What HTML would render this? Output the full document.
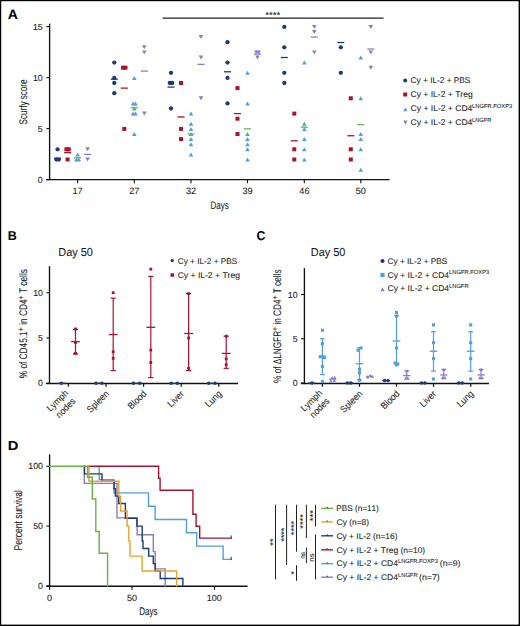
<!DOCTYPE html>
<html><head><meta charset="utf-8"><style>
html,body{margin:0;padding:0;background:#fff;width:520px;height:626px;overflow:hidden}
svg{display:block}
text{font-family:"Liberation Sans", sans-serif;font-kerning:none;text-rendering:geometricPrecision;stroke:#1a1a1a;stroke-width:0.08px}
</style></head><body>
<svg width="520" height="626" viewBox="0 0 520 626">
<rect width="520" height="626" fill="#fff"/>
<rect x="0" y="0" width="520" height="1.2" fill="#000"/>
<rect x="0" y="0" width="1.2" height="626" fill="#000"/>
<rect x="518.6" y="0" width="1.4" height="626" fill="#000"/>
<rect x="0" y="624.6" width="520" height="1.4" fill="#000"/>
<text transform="translate(7.75,18.75) scale(1.0316,1)" x="0" y="0" font-size="13.6" font-weight="bold" fill="#000">A</text>
<line x1="49.60" y1="23.70" x2="49.60" y2="180.20" stroke="#111" stroke-width="1.35"/>
<line x1="46.00" y1="179.60" x2="389.60" y2="179.60" stroke="#111" stroke-width="1.35"/>
<line x1="46.40" y1="179.60" x2="49.60" y2="179.60" stroke="#111" stroke-width="1.1"/>
<text x="37.85" y="182.65" font-size="8.8" fill="#1a1a1a">0</text>
<line x1="46.40" y1="128.60" x2="49.60" y2="128.60" stroke="#111" stroke-width="1.1"/>
<text x="37.87" y="131.65" font-size="8.8" fill="#1a1a1a">5</text>
<line x1="46.40" y1="77.60" x2="49.60" y2="77.60" stroke="#111" stroke-width="1.1"/>
<text x="32.96" y="80.65" font-size="8.8" fill="#1a1a1a">10</text>
<line x1="46.40" y1="26.60" x2="49.60" y2="26.60" stroke="#111" stroke-width="1.1"/>
<text x="32.98" y="29.65" font-size="8.8" fill="#1a1a1a">15</text>
<line x1="77.60" y1="179.60" x2="77.60" y2="183.20" stroke="#111" stroke-width="1.1"/>
<text x="72.44" y="194.30" font-size="9.1" fill="#1a1a1a">17</text>
<line x1="134.30" y1="179.60" x2="134.30" y2="183.20" stroke="#111" stroke-width="1.1"/>
<text x="129.25" y="194.30" font-size="9.1" fill="#1a1a1a">27</text>
<line x1="191.00" y1="179.60" x2="191.00" y2="183.20" stroke="#111" stroke-width="1.1"/>
<text x="186.01" y="194.30" font-size="9.1" fill="#1a1a1a">32</text>
<line x1="247.50" y1="179.60" x2="247.50" y2="183.20" stroke="#111" stroke-width="1.1"/>
<text x="242.48" y="194.30" font-size="9.1" fill="#1a1a1a">39</text>
<line x1="304.30" y1="179.60" x2="304.30" y2="183.20" stroke="#111" stroke-width="1.1"/>
<text x="299.34" y="194.30" font-size="9.1" fill="#1a1a1a">46</text>
<line x1="360.80" y1="179.60" x2="360.80" y2="183.20" stroke="#111" stroke-width="1.1"/>
<text x="355.74" y="194.30" font-size="9.1" fill="#1a1a1a">50</text>
<text transform="translate(210.44,208.60) scale(0.7348,1)" x="0" y="0" font-size="10.9" fill="#1a1a1a">Days</text>
<g transform="translate(27.20,124.10) rotate(-90)">
<text transform="translate(-0.36,0.00) scale(0.7234,1)" x="0" y="0" font-size="11.2" fill="#1a1a1a">Scurfy&#160;score</text>
</g>
<line x1="162.50" y1="18.20" x2="383.60" y2="18.20" stroke="#222" stroke-width="1.2"/>
<text transform="translate(265.23,18.40) scale(1.0996,1)" x="0" y="0" font-size="8.9" fill="#1a1a1a">****</text>
<circle cx="57.60" cy="149.30" r="2.15" fill="#1b3b7b"/>
<circle cx="56.40" cy="159.50" r="2.15" fill="#1b3b7b"/>
<circle cx="58.80" cy="159.50" r="2.15" fill="#1b3b7b"/>
<line x1="54.10" y1="158.48" x2="61.10" y2="158.48" stroke="#1b3b7b" stroke-width="1.3"/>
<rect x="64.40" y="147.30" width="4.0" height="4.0" fill="#a9122e"/>
<rect x="66.80" y="147.30" width="4.0" height="4.0" fill="#a9122e"/>
<rect x="65.60" y="157.50" width="4.0" height="4.0" fill="#a9122e"/>
<line x1="64.10" y1="152.67" x2="71.10" y2="152.67" stroke="#a9122e" stroke-width="1.3"/>
<polygon points="75.30,156.40 79.90,156.40 77.60,152.40" fill="#519edd"/>
<polygon points="74.10,161.50 78.70,161.50 76.40,157.50" fill="#519edd"/>
<polygon points="76.50,161.50 81.10,161.50 78.80,157.50" fill="#519edd"/>
<line x1="74.10" y1="157.77" x2="81.10" y2="157.77" stroke="#6bb241" stroke-width="1.3"/>
<polygon points="85.30,147.30 89.90,147.30 87.60,151.30" fill="#8a7cc6"/>
<polygon points="85.30,157.50 89.90,157.50 87.60,161.50" fill="#8a7cc6"/>
<line x1="84.10" y1="154.40" x2="91.10" y2="154.40" stroke="#8a7cc6" stroke-width="1.3"/>
<circle cx="114.30" cy="62.60" r="2.15" fill="#1b3b7b"/>
<circle cx="114.30" cy="77.90" r="2.15" fill="#1b3b7b"/>
<circle cx="114.30" cy="83.00" r="2.15" fill="#1b3b7b"/>
<circle cx="114.30" cy="93.20" r="2.15" fill="#1b3b7b"/>
<line x1="110.80" y1="79.18" x2="117.80" y2="79.18" stroke="#1b3b7b" stroke-width="1.3"/>
<rect x="121.10" y="65.70" width="4.0" height="4.0" fill="#a9122e"/>
<rect x="123.50" y="65.70" width="4.0" height="4.0" fill="#a9122e"/>
<rect x="122.30" y="126.90" width="4.0" height="4.0" fill="#a9122e"/>
<line x1="120.80" y1="88.10" x2="127.80" y2="88.10" stroke="#a9122e" stroke-width="1.3"/>
<polygon points="132.00,79.90 136.60,79.90 134.30,75.90" fill="#519edd"/>
<polygon points="130.80,105.40 135.40,105.40 133.10,101.40" fill="#519edd"/>
<polygon points="133.20,105.40 137.80,105.40 135.50,101.40" fill="#519edd"/>
<polygon points="132.00,110.50 136.60,110.50 134.30,106.50" fill="#519edd"/>
<polygon points="130.80,115.60 135.40,115.60 133.10,111.60" fill="#519edd"/>
<polygon points="133.20,115.60 137.80,115.60 135.50,111.60" fill="#519edd"/>
<polygon points="132.00,136.00 136.60,136.00 134.30,132.00" fill="#519edd"/>
<line x1="130.80" y1="107.79" x2="137.80" y2="107.79" stroke="#6bb241" stroke-width="1.3"/>
<polygon points="142.00,45.30 146.60,45.30 144.30,49.30" fill="#8a7cc6"/>
<polygon points="142.00,50.40 146.60,50.40 144.30,54.40" fill="#8a7cc6"/>
<polygon points="142.00,111.60 146.60,111.60 144.30,115.60" fill="#8a7cc6"/>
<line x1="140.80" y1="71.07" x2="147.80" y2="71.07" stroke="#8a7cc6" stroke-width="1.3"/>
<circle cx="171.00" cy="72.80" r="2.15" fill="#1b3b7b"/>
<circle cx="169.80" cy="83.00" r="2.15" fill="#1b3b7b"/>
<circle cx="172.20" cy="83.00" r="2.15" fill="#1b3b7b"/>
<circle cx="171.00" cy="108.50" r="2.15" fill="#1b3b7b"/>
<line x1="167.50" y1="87.08" x2="174.50" y2="87.08" stroke="#1b3b7b" stroke-width="1.3"/>
<rect x="179.00" y="81.00" width="4.0" height="4.0" fill="#a9122e"/>
<rect x="179.00" y="126.90" width="4.0" height="4.0" fill="#a9122e"/>
<rect x="179.00" y="137.10" width="4.0" height="4.0" fill="#a9122e"/>
<line x1="177.50" y1="116.97" x2="184.50" y2="116.97" stroke="#a9122e" stroke-width="1.3"/>
<polygon points="188.70,115.60 193.30,115.60 191.00,111.60" fill="#519edd"/>
<polygon points="188.70,125.80 193.30,125.80 191.00,121.80" fill="#519edd"/>
<polygon points="188.70,130.90 193.30,130.90 191.00,126.90" fill="#519edd"/>
<polygon points="188.70,136.00 193.30,136.00 191.00,132.00" fill="#519edd"/>
<polygon points="188.70,141.10 193.30,141.10 191.00,137.10" fill="#519edd"/>
<polygon points="188.70,146.20 193.30,146.20 191.00,142.20" fill="#519edd"/>
<polygon points="188.70,156.40 193.30,156.40 191.00,152.40" fill="#519edd"/>
<line x1="187.50" y1="134.00" x2="194.50" y2="134.00" stroke="#6bb241" stroke-width="1.3"/>
<polygon points="198.70,35.10 203.30,35.10 201.00,39.10" fill="#8a7cc6"/>
<polygon points="198.70,55.50 203.30,55.50 201.00,59.50" fill="#8a7cc6"/>
<polygon points="198.70,96.30 203.30,96.30 201.00,100.30" fill="#8a7cc6"/>
<line x1="197.50" y1="64.33" x2="204.50" y2="64.33" stroke="#8a7cc6" stroke-width="1.3"/>
<circle cx="227.50" cy="42.20" r="2.15" fill="#1b3b7b"/>
<circle cx="227.50" cy="62.60" r="2.15" fill="#1b3b7b"/>
<circle cx="227.50" cy="77.90" r="2.15" fill="#1b3b7b"/>
<circle cx="227.50" cy="103.40" r="2.15" fill="#1b3b7b"/>
<line x1="224.00" y1="71.78" x2="231.00" y2="71.78" stroke="#1b3b7b" stroke-width="1.3"/>
<rect x="235.50" y="86.10" width="4.0" height="4.0" fill="#a9122e"/>
<rect x="235.50" y="116.70" width="4.0" height="4.0" fill="#a9122e"/>
<rect x="235.50" y="132.00" width="4.0" height="4.0" fill="#a9122e"/>
<line x1="234.00" y1="113.60" x2="241.00" y2="113.60" stroke="#a9122e" stroke-width="1.3"/>
<polygon points="245.20,74.80 249.80,74.80 247.50,70.80" fill="#519edd"/>
<polygon points="245.20,105.40 249.80,105.40 247.50,101.40" fill="#519edd"/>
<polygon points="245.20,136.00 249.80,136.00 247.50,132.00" fill="#519edd"/>
<polygon points="245.20,141.10 249.80,141.10 247.50,137.10" fill="#519edd"/>
<polygon points="245.20,146.20 249.80,146.20 247.50,142.20" fill="#519edd"/>
<polygon points="245.20,151.30 249.80,151.30 247.50,147.30" fill="#519edd"/>
<polygon points="245.20,161.50 249.80,161.50 247.50,157.50" fill="#519edd"/>
<line x1="244.00" y1="128.90" x2="251.00" y2="128.90" stroke="#6bb241" stroke-width="1.3"/>
<polygon points="254.00,50.40 258.60,50.40 256.30,54.40" fill="#8a7cc6"/>
<polygon points="256.40,50.40 261.00,50.40 258.70,54.40" fill="#8a7cc6"/>
<polygon points="255.20,55.50 259.80,55.50 257.50,59.50" fill="#8a7cc6"/>
<line x1="254.00" y1="54.13" x2="261.00" y2="54.13" stroke="#8a7cc6" stroke-width="1.3"/>
<circle cx="284.30" cy="26.90" r="2.15" fill="#1b3b7b"/>
<circle cx="284.30" cy="47.30" r="2.15" fill="#1b3b7b"/>
<circle cx="284.30" cy="72.80" r="2.15" fill="#1b3b7b"/>
<circle cx="284.30" cy="83.00" r="2.15" fill="#1b3b7b"/>
<line x1="280.80" y1="57.50" x2="287.80" y2="57.50" stroke="#1b3b7b" stroke-width="1.3"/>
<rect x="292.30" y="111.60" width="4.0" height="4.0" fill="#a9122e"/>
<rect x="292.30" y="147.30" width="4.0" height="4.0" fill="#a9122e"/>
<rect x="292.30" y="157.50" width="4.0" height="4.0" fill="#a9122e"/>
<line x1="290.80" y1="140.83" x2="297.80" y2="140.83" stroke="#a9122e" stroke-width="1.3"/>
<polygon points="302.00,64.60 306.60,64.60 304.30,60.60" fill="#519edd"/>
<polygon points="302.00,125.80 306.60,125.80 304.30,121.80" fill="#519edd"/>
<polygon points="302.00,130.90 306.60,130.90 304.30,126.90" fill="#519edd"/>
<polygon points="302.00,141.10 306.60,141.10 304.30,137.10" fill="#519edd"/>
<polygon points="302.00,151.30 306.60,151.30 304.30,147.30" fill="#519edd"/>
<polygon points="302.00,161.50 306.60,161.50 304.30,157.50" fill="#519edd"/>
<line x1="300.80" y1="127.17" x2="307.80" y2="127.17" stroke="#6bb241" stroke-width="1.3"/>
<polygon points="312.00,24.90 316.60,24.90 314.30,28.90" fill="#8a7cc6"/>
<polygon points="312.00,30.00 316.60,30.00 314.30,34.00" fill="#8a7cc6"/>
<polygon points="312.00,50.40 316.60,50.40 314.30,54.40" fill="#8a7cc6"/>
<line x1="310.80" y1="37.10" x2="317.80" y2="37.10" stroke="#8a7cc6" stroke-width="1.3"/>
<circle cx="340.80" cy="47.30" r="2.15" fill="#1b3b7b"/>
<circle cx="340.80" cy="72.80" r="2.15" fill="#1b3b7b"/>
<line x1="337.30" y1="42.51" x2="344.30" y2="42.51" stroke="#1b3b7b" stroke-width="1.3"/>
<rect x="348.80" y="96.30" width="4.0" height="4.0" fill="#a9122e"/>
<rect x="348.80" y="147.30" width="4.0" height="4.0" fill="#a9122e"/>
<rect x="348.80" y="157.50" width="4.0" height="4.0" fill="#a9122e"/>
<line x1="347.30" y1="135.73" x2="354.30" y2="135.73" stroke="#a9122e" stroke-width="1.3"/>
<polygon points="358.50,59.50 363.10,59.50 360.80,55.50" fill="#519edd"/>
<polygon points="358.50,100.30 363.10,100.30 360.80,96.30" fill="#519edd"/>
<polygon points="358.50,136.00 363.10,136.00 360.80,132.00" fill="#519edd"/>
<polygon points="358.50,141.10 363.10,141.10 360.80,137.10" fill="#519edd"/>
<polygon points="358.50,151.30 363.10,151.30 360.80,147.30" fill="#519edd"/>
<polygon points="358.50,171.70 363.10,171.70 360.80,167.70" fill="#519edd"/>
<line x1="357.30" y1="124.62" x2="364.30" y2="124.62" stroke="#6bb241" stroke-width="1.3"/>
<polygon points="368.50,24.90 373.10,24.90 370.80,28.90" fill="#8a7cc6"/>
<polygon points="368.50,50.40 373.10,50.40 370.80,54.40" fill="#8a7cc6"/>
<polygon points="368.50,65.70 373.10,65.70 370.80,69.70" fill="#8a7cc6"/>
<line x1="367.30" y1="49.03" x2="374.30" y2="49.03" stroke="#8a7cc6" stroke-width="1.3"/>
<circle cx="405.20" cy="80.50" r="2.0" fill="#1b3b7b"/>
<rect x="403.20" y="92.50" width="4.0" height="4.0" fill="#a9122e"/>
<polygon points="403.15,111.20 407.45,111.20 405.30,107.20" fill="#519edd"/>
<polygon points="403.30,120.50 407.50,120.50 405.40,124.70" fill="#8a7cc6"/>
<text transform="translate(410.59,83.00) scale(0.9970,1)" x="0" y="0" font-size="8.3" fill="#1a1a1a">Cy&#160;+&#160;IL-2&#160;+&#160;PBS</text>
<text transform="translate(410.57,97.10) scale(1.0282,1)" x="0" y="0" font-size="8.3" fill="#1a1a1a">Cy&#160;+&#160;IL-2&#160;+&#160;Treg</text>
<text transform="translate(410.57,110.90) scale(1.0299,1)" x="0" y="0" font-size="8.3" fill="#1a1a1a">Cy&#160;+&#160;IL-2&#160;+&#160;CD4</text>
<text transform="translate(410.57,125.10) scale(1.0299,1)" x="0" y="0" font-size="8.3" fill="#1a1a1a">Cy&#160;+&#160;IL-2&#160;+&#160;CD4</text>
<text transform="translate(472.02,107.80) scale(0.9841,1)" x="0" y="0" font-size="5.9" fill="#1a1a1a">LNGFR.FOXP3</text>
<text transform="translate(472.03,121.60) scale(0.9618,1)" x="0" y="0" font-size="5.9" fill="#1a1a1a">LNGFR</text>
<text transform="translate(7.86,239.60) scale(0.9734,1)" x="0" y="0" font-size="12.8" font-weight="bold" fill="#000">B</text>
<text transform="translate(58.30,256.30) scale(0.9420,1)" x="0" y="0" font-size="11.6" fill="#1a1a1a">Day&#160;50</text>
<line x1="49.50" y1="266.20" x2="49.50" y2="384.10" stroke="#111" stroke-width="1.35"/>
<line x1="46.00" y1="383.50" x2="238.00" y2="383.50" stroke="#111" stroke-width="1.35"/>
<line x1="46.40" y1="383.30" x2="49.50" y2="383.30" stroke="#111" stroke-width="1.1"/>
<text x="38.05" y="386.35" font-size="8.8" fill="#1a1a1a">0</text>
<line x1="46.40" y1="338.00" x2="49.50" y2="338.00" stroke="#111" stroke-width="1.1"/>
<text x="38.07" y="341.05" font-size="8.8" fill="#1a1a1a">5</text>
<line x1="46.40" y1="292.70" x2="49.50" y2="292.70" stroke="#111" stroke-width="1.1"/>
<text x="33.16" y="295.75" font-size="8.8" fill="#1a1a1a">10</text>
<line x1="68.40" y1="383.50" x2="68.40" y2="386.80" stroke="#111" stroke-width="1.2"/>
<line x1="106.00" y1="383.50" x2="106.00" y2="386.80" stroke="#111" stroke-width="1.2"/>
<line x1="143.60" y1="383.50" x2="143.60" y2="386.80" stroke="#111" stroke-width="1.2"/>
<line x1="181.20" y1="383.50" x2="181.20" y2="386.80" stroke="#111" stroke-width="1.2"/>
<line x1="218.80" y1="383.50" x2="218.80" y2="386.80" stroke="#111" stroke-width="1.2"/>
<g transform="translate(26.60,378.00) rotate(-90)">
<g transform="translate(-0.29,0.00) scale(0.7540,1)">
<text x="0.00" y="0.00" font-size="11.00" fill="#1a1a1a">%&#160;of&#160;CD45.1</text>
<text x="62.37" y="-2.86" font-size="9.35" fill="#1a1a1a">+</text>
<text x="67.83" y="0.00" font-size="11.00" fill="#1a1a1a">&#160;in&#160;CD4</text>
<text x="104.51" y="-2.86" font-size="9.35" fill="#1a1a1a">+</text>
<text x="109.97" y="0.00" font-size="11.00" fill="#1a1a1a">&#160;T&#160;cells</text>
</g>
</g>
<g transform="translate(109.20,394.60) rotate(-45) scale(0.92,1)"><text x="-28.65" y="0" font-size="9.4" fill="#1a1a1a">Spleen</text></g>
<g transform="translate(146.80,394.60) rotate(-45) scale(0.92,1)"><text x="-23.45" y="0" font-size="9.4" fill="#1a1a1a">Blood</text></g>
<g transform="translate(184.40,394.60) rotate(-45) scale(0.92,1)"><text x="-20.23" y="0" font-size="9.4" fill="#1a1a1a">Liver</text></g>
<g transform="translate(222.00,394.60) rotate(-45) scale(0.92,1)"><text x="-20.30" y="0" font-size="9.4" fill="#1a1a1a">Lung</text></g>
<g transform="translate(68.30,394.30) rotate(-45) scale(0.92,1)"><text x="-27.24" y="0" font-size="9.4" fill="#1a1a1a">Lymph</text><text x="-25.29" y="10.8" font-size="9.4" fill="#1a1a1a">nodes</text></g>
<circle cx="61.30" cy="383.30" r="1.75" fill="#1b3b7b"/>
<line x1="57.00" y1="383.30" x2="65.60" y2="383.30" stroke="#1b3b7b" stroke-width="1.2"/>
<circle cx="96.00" cy="383.30" r="1.75" fill="#1b3b7b"/>
<circle cx="102.00" cy="383.30" r="1.75" fill="#1b3b7b"/>
<line x1="94.70" y1="383.30" x2="103.30" y2="383.30" stroke="#1b3b7b" stroke-width="1.2"/>
<circle cx="133.40" cy="383.30" r="1.75" fill="#1b3b7b"/>
<circle cx="139.80" cy="383.30" r="1.75" fill="#1b3b7b"/>
<line x1="132.30" y1="383.30" x2="140.90" y2="383.30" stroke="#1b3b7b" stroke-width="1.2"/>
<circle cx="171.10" cy="383.30" r="1.75" fill="#1b3b7b"/>
<circle cx="177.30" cy="383.30" r="1.75" fill="#1b3b7b"/>
<line x1="169.90" y1="383.30" x2="178.50" y2="383.30" stroke="#1b3b7b" stroke-width="1.2"/>
<circle cx="208.60" cy="383.30" r="1.75" fill="#1b3b7b"/>
<circle cx="215.00" cy="383.30" r="1.75" fill="#1b3b7b"/>
<line x1="207.50" y1="383.30" x2="216.10" y2="383.30" stroke="#1b3b7b" stroke-width="1.2"/>
<line x1="75.50" y1="329.39" x2="75.50" y2="353.86" stroke="#a9122e" stroke-width="1.2"/>
<line x1="72.90" y1="329.39" x2="78.10" y2="329.39" stroke="#a9122e" stroke-width="1.2"/>
<line x1="72.90" y1="353.86" x2="78.10" y2="353.86" stroke="#a9122e" stroke-width="1.2"/>
<line x1="71.10" y1="341.62" x2="79.90" y2="341.62" stroke="#a9122e" stroke-width="1.3"/>
<rect x="74.10" y="327.54" width="2.8" height="2.8" fill="#a9122e"/>
<rect x="74.10" y="341.13" width="2.8" height="2.8" fill="#a9122e"/>
<rect x="74.10" y="352.00" width="2.8" height="2.8" fill="#a9122e"/>
<line x1="113.20" y1="298.14" x2="113.20" y2="370.62" stroke="#a9122e" stroke-width="1.2"/>
<line x1="110.60" y1="298.14" x2="115.80" y2="298.14" stroke="#a9122e" stroke-width="1.2"/>
<line x1="110.60" y1="370.62" x2="115.80" y2="370.62" stroke="#a9122e" stroke-width="1.2"/>
<line x1="108.80" y1="334.56" x2="117.60" y2="334.56" stroke="#a9122e" stroke-width="1.3"/>
<rect x="111.80" y="291.30" width="2.8" height="2.8" fill="#a9122e"/>
<rect x="111.80" y="350.46" width="2.8" height="2.8" fill="#a9122e"/>
<rect x="111.80" y="356.89" width="2.8" height="2.8" fill="#a9122e"/>
<line x1="150.80" y1="276.39" x2="150.80" y2="377.59" stroke="#a9122e" stroke-width="1.2"/>
<line x1="148.20" y1="276.39" x2="153.40" y2="276.39" stroke="#a9122e" stroke-width="1.2"/>
<line x1="148.20" y1="377.59" x2="153.40" y2="377.59" stroke="#a9122e" stroke-width="1.2"/>
<line x1="146.40" y1="327.31" x2="155.20" y2="327.31" stroke="#a9122e" stroke-width="1.3"/>
<rect x="149.40" y="267.74" width="2.8" height="2.8" fill="#a9122e"/>
<rect x="149.40" y="348.65" width="2.8" height="2.8" fill="#a9122e"/>
<rect x="149.40" y="361.06" width="2.8" height="2.8" fill="#a9122e"/>
<line x1="188.60" y1="293.61" x2="188.60" y2="370.62" stroke="#a9122e" stroke-width="1.2"/>
<line x1="186.00" y1="293.61" x2="191.20" y2="293.61" stroke="#a9122e" stroke-width="1.2"/>
<line x1="186.00" y1="370.62" x2="191.20" y2="370.62" stroke="#a9122e" stroke-width="1.2"/>
<line x1="184.20" y1="333.47" x2="193.00" y2="333.47" stroke="#a9122e" stroke-width="1.3"/>
<rect x="187.20" y="292.21" width="2.8" height="2.8" fill="#a9122e"/>
<rect x="187.20" y="336.60" width="2.8" height="2.8" fill="#a9122e"/>
<rect x="187.20" y="366.95" width="2.8" height="2.8" fill="#a9122e"/>
<line x1="226.20" y1="336.19" x2="226.20" y2="368.35" stroke="#a9122e" stroke-width="1.2"/>
<line x1="223.60" y1="336.19" x2="228.80" y2="336.19" stroke="#a9122e" stroke-width="1.2"/>
<line x1="223.60" y1="368.35" x2="228.80" y2="368.35" stroke="#a9122e" stroke-width="1.2"/>
<line x1="221.80" y1="353.40" x2="230.60" y2="353.40" stroke="#a9122e" stroke-width="1.3"/>
<rect x="224.80" y="334.79" width="2.8" height="2.8" fill="#a9122e"/>
<rect x="224.80" y="357.44" width="2.8" height="2.8" fill="#a9122e"/>
<rect x="224.80" y="363.33" width="2.8" height="2.8" fill="#a9122e"/>
<circle cx="172.20" cy="260.60" r="1.7" fill="#1b3b7b"/>
<rect x="170.55" y="273.25" width="3.5" height="3.5" fill="#a9122e"/>
<text transform="translate(177.69,263.80) scale(0.9936,1)" x="0" y="0" font-size="8.3" fill="#1a1a1a">Cy&#160;+&#160;IL-2&#160;+&#160;PBS</text>
<text transform="translate(177.67,277.80) scale(1.0316,1)" x="0" y="0" font-size="8.3" fill="#1a1a1a">Cy&#160;+&#160;IL-2&#160;+&#160;Treg</text>
<text transform="translate(256.41,239.80) scale(0.9661,1)" x="0" y="0" font-size="12.8" font-weight="bold" fill="#000">C</text>
<text transform="translate(310.80,256.20) scale(0.9420,1)" x="0" y="0" font-size="11.6" fill="#1a1a1a">Day&#160;50</text>
<line x1="304.40" y1="268.20" x2="304.40" y2="384.10" stroke="#111" stroke-width="1.35"/>
<line x1="300.80" y1="383.50" x2="489.00" y2="383.50" stroke="#111" stroke-width="1.35"/>
<line x1="301.10" y1="383.10" x2="304.40" y2="383.10" stroke="#111" stroke-width="1.1"/>
<text x="292.75" y="386.15" font-size="8.8" fill="#1a1a1a">0</text>
<line x1="301.10" y1="338.80" x2="304.40" y2="338.80" stroke="#111" stroke-width="1.1"/>
<text x="292.77" y="341.85" font-size="8.8" fill="#1a1a1a">5</text>
<line x1="301.10" y1="294.50" x2="304.40" y2="294.50" stroke="#111" stroke-width="1.1"/>
<text x="287.86" y="297.55" font-size="8.8" fill="#1a1a1a">10</text>
<line x1="322.40" y1="383.50" x2="322.40" y2="386.80" stroke="#111" stroke-width="1.2"/>
<line x1="359.50" y1="383.50" x2="359.50" y2="386.80" stroke="#111" stroke-width="1.2"/>
<line x1="396.50" y1="383.50" x2="396.50" y2="386.80" stroke="#111" stroke-width="1.2"/>
<line x1="433.50" y1="383.50" x2="433.50" y2="386.80" stroke="#111" stroke-width="1.2"/>
<line x1="470.70" y1="383.50" x2="470.70" y2="386.80" stroke="#111" stroke-width="1.2"/>
<g transform="translate(281.00,382.60) rotate(-90)">
<g transform="translate(-0.29,0.00) scale(0.7452,1)">
<text x="0.00" y="0.00" font-size="11.00" fill="#1a1a1a">%&#160;of&#160;ΔLNGFR</text>
<text x="69.70" y="-2.86" font-size="9.35" fill="#1a1a1a">+</text>
<text x="75.16" y="0.00" font-size="11.00" fill="#1a1a1a">&#160;in&#160;CD4</text>
<text x="111.84" y="-2.86" font-size="9.35" fill="#1a1a1a">+</text>
<text x="117.30" y="0.00" font-size="11.00" fill="#1a1a1a">&#160;T&#160;cells</text>
</g>
</g>
<g transform="translate(362.70,394.60) rotate(-45) scale(0.92,1)"><text x="-28.65" y="0" font-size="9.4" fill="#1a1a1a">Spleen</text></g>
<g transform="translate(399.70,394.60) rotate(-45) scale(0.92,1)"><text x="-23.45" y="0" font-size="9.4" fill="#1a1a1a">Blood</text></g>
<g transform="translate(436.70,394.60) rotate(-45) scale(0.92,1)"><text x="-20.23" y="0" font-size="9.4" fill="#1a1a1a">Liver</text></g>
<g transform="translate(473.90,394.60) rotate(-45) scale(0.92,1)"><text x="-20.30" y="0" font-size="9.4" fill="#1a1a1a">Lung</text></g>
<g transform="translate(322.30,394.30) rotate(-45) scale(0.92,1)"><text x="-27.24" y="0" font-size="9.4" fill="#1a1a1a">Lymph</text><text x="-25.29" y="10.8" font-size="9.4" fill="#1a1a1a">nodes</text></g>
<circle cx="312.00" cy="383.10" r="1.75" fill="#1b3b7b"/>
<line x1="308.00" y1="383.10" x2="316.00" y2="383.10" stroke="#1b3b7b" stroke-width="1.2"/>
<circle cx="347.50" cy="383.10" r="1.75" fill="#1b3b7b"/>
<circle cx="350.90" cy="383.10" r="1.75" fill="#1b3b7b"/>
<line x1="345.20" y1="383.10" x2="353.20" y2="383.10" stroke="#1b3b7b" stroke-width="1.2"/>
<circle cx="384.50" cy="380.60" r="1.75" fill="#1b3b7b"/>
<circle cx="387.90" cy="380.60" r="1.75" fill="#1b3b7b"/>
<line x1="382.20" y1="380.60" x2="390.20" y2="380.60" stroke="#1b3b7b" stroke-width="1.2"/>
<circle cx="421.50" cy="383.10" r="1.75" fill="#1b3b7b"/>
<circle cx="424.90" cy="383.10" r="1.75" fill="#1b3b7b"/>
<line x1="419.20" y1="383.10" x2="427.20" y2="383.10" stroke="#1b3b7b" stroke-width="1.2"/>
<circle cx="458.70" cy="383.10" r="1.75" fill="#1b3b7b"/>
<circle cx="462.10" cy="383.10" r="1.75" fill="#1b3b7b"/>
<line x1="456.40" y1="383.10" x2="464.40" y2="383.10" stroke="#1b3b7b" stroke-width="1.2"/>
<line x1="322.40" y1="338.80" x2="322.40" y2="374.59" stroke="#519edd" stroke-width="1.2"/>
<line x1="320.00" y1="338.80" x2="324.80" y2="338.80" stroke="#519edd" stroke-width="1.2"/>
<line x1="320.00" y1="374.59" x2="324.80" y2="374.59" stroke="#519edd" stroke-width="1.2"/>
<line x1="318.60" y1="356.08" x2="326.20" y2="356.08" stroke="#519edd" stroke-width="1.3"/>
<rect x="320.85" y="328.69" width="3.1" height="3.1" fill="#519edd"/>
<rect x="320.85" y="341.98" width="3.1" height="3.1" fill="#519edd"/>
<rect x="318.85" y="355.27" width="3.1" height="3.1" fill="#519edd"/>
<rect x="322.85" y="356.16" width="3.1" height="3.1" fill="#519edd"/>
<rect x="320.85" y="365.02" width="3.1" height="3.1" fill="#519edd"/>
<rect x="320.85" y="380.08" width="3.1" height="3.1" fill="#519edd"/>
<line x1="359.50" y1="347.66" x2="359.50" y2="379.91" stroke="#519edd" stroke-width="1.2"/>
<line x1="357.10" y1="347.66" x2="361.90" y2="347.66" stroke="#519edd" stroke-width="1.2"/>
<line x1="357.10" y1="379.91" x2="361.90" y2="379.91" stroke="#519edd" stroke-width="1.2"/>
<line x1="355.70" y1="363.79" x2="363.30" y2="363.79" stroke="#519edd" stroke-width="1.3"/>
<rect x="359.45" y="346.41" width="3.1" height="3.1" fill="#519edd"/>
<rect x="356.45" y="348.62" width="3.1" height="3.1" fill="#519edd"/>
<rect x="357.95" y="367.67" width="3.1" height="3.1" fill="#519edd"/>
<rect x="357.95" y="371.22" width="3.1" height="3.1" fill="#519edd"/>
<rect x="357.95" y="378.66" width="3.1" height="3.1" fill="#519edd"/>
<line x1="396.50" y1="315.76" x2="396.50" y2="363.61" stroke="#519edd" stroke-width="1.2"/>
<line x1="394.10" y1="315.76" x2="398.90" y2="315.76" stroke="#519edd" stroke-width="1.2"/>
<line x1="394.10" y1="363.61" x2="398.90" y2="363.61" stroke="#519edd" stroke-width="1.2"/>
<line x1="392.70" y1="341.02" x2="400.30" y2="341.02" stroke="#519edd" stroke-width="1.3"/>
<rect x="394.95" y="310.97" width="3.1" height="3.1" fill="#519edd"/>
<rect x="394.95" y="314.51" width="3.1" height="3.1" fill="#519edd"/>
<rect x="394.95" y="346.41" width="3.1" height="3.1" fill="#519edd"/>
<rect x="393.65" y="361.47" width="3.1" height="3.1" fill="#519edd"/>
<rect x="396.25" y="362.36" width="3.1" height="3.1" fill="#519edd"/>
<rect x="394.95" y="363.24" width="3.1" height="3.1" fill="#519edd"/>
<line x1="433.50" y1="331.71" x2="433.50" y2="371.14" stroke="#519edd" stroke-width="1.2"/>
<line x1="431.10" y1="331.71" x2="435.90" y2="331.71" stroke="#519edd" stroke-width="1.2"/>
<line x1="431.10" y1="371.14" x2="435.90" y2="371.14" stroke="#519edd" stroke-width="1.2"/>
<line x1="429.70" y1="351.20" x2="437.30" y2="351.20" stroke="#519edd" stroke-width="1.3"/>
<rect x="431.95" y="323.37" width="3.1" height="3.1" fill="#519edd"/>
<rect x="431.95" y="341.09" width="3.1" height="3.1" fill="#519edd"/>
<rect x="431.95" y="357.04" width="3.1" height="3.1" fill="#519edd"/>
<rect x="431.95" y="377.42" width="3.1" height="3.1" fill="#519edd"/>
<line x1="470.70" y1="331.71" x2="470.70" y2="371.14" stroke="#519edd" stroke-width="1.2"/>
<line x1="468.30" y1="331.71" x2="473.10" y2="331.71" stroke="#519edd" stroke-width="1.2"/>
<line x1="468.30" y1="371.14" x2="473.10" y2="371.14" stroke="#519edd" stroke-width="1.2"/>
<line x1="466.90" y1="351.20" x2="474.50" y2="351.20" stroke="#519edd" stroke-width="1.3"/>
<rect x="469.15" y="323.37" width="3.1" height="3.1" fill="#519edd"/>
<rect x="469.15" y="341.09" width="3.1" height="3.1" fill="#519edd"/>
<rect x="469.15" y="357.04" width="3.1" height="3.1" fill="#519edd"/>
<rect x="469.15" y="377.42" width="3.1" height="3.1" fill="#519edd"/>
<line x1="329.10" y1="379.11" x2="336.30" y2="379.11" stroke="#8a7cc6" stroke-width="1.3"/>
<polygon points="328.90,382.44 332.50,382.44 330.70,379.34" fill="#8a7cc6"/>
<polygon points="332.50,381.99 336.10,381.99 334.30,378.89" fill="#8a7cc6"/>
<polygon points="330.30,379.33 333.90,379.33 332.10,376.23" fill="#8a7cc6"/>
<polygon points="332.90,378.89 336.50,378.89 334.70,375.79" fill="#8a7cc6"/>
<line x1="366.20" y1="376.46" x2="373.40" y2="376.46" stroke="#8a7cc6" stroke-width="1.3"/>
<polygon points="365.80,378.45 369.40,378.45 367.60,375.35" fill="#8a7cc6"/>
<polygon points="368.20,377.12 371.80,377.12 370.00,374.02" fill="#8a7cc6"/>
<polygon points="370.40,377.74 374.00,377.74 372.20,374.64" fill="#8a7cc6"/>
<line x1="406.80" y1="370.70" x2="406.80" y2="378.67" stroke="#8a7cc6" stroke-width="1.2"/>
<line x1="404.40" y1="370.70" x2="409.20" y2="370.70" stroke="#8a7cc6" stroke-width="1.2"/>
<line x1="403.20" y1="375.57" x2="410.40" y2="375.57" stroke="#8a7cc6" stroke-width="1.3"/>
<polygon points="403.80,379.78 407.40,379.78 405.60,376.68" fill="#8a7cc6"/>
<polygon points="406.20,379.78 409.80,379.78 408.00,376.68" fill="#8a7cc6"/>
<polygon points="405.00,372.25 408.60,372.25 406.80,369.15" fill="#8a7cc6"/>
<line x1="443.80" y1="369.37" x2="443.80" y2="378.23" stroke="#8a7cc6" stroke-width="1.2"/>
<line x1="441.40" y1="369.37" x2="446.20" y2="369.37" stroke="#8a7cc6" stroke-width="1.2"/>
<line x1="440.20" y1="374.95" x2="447.40" y2="374.95" stroke="#8a7cc6" stroke-width="1.3"/>
<polygon points="440.80,379.33 444.40,379.33 442.60,376.23" fill="#8a7cc6"/>
<polygon points="443.20,379.33 446.80,379.33 445.00,376.23" fill="#8a7cc6"/>
<polygon points="442.00,370.92 445.60,370.92 443.80,367.82" fill="#8a7cc6"/>
<line x1="481.00" y1="369.37" x2="481.00" y2="378.23" stroke="#8a7cc6" stroke-width="1.2"/>
<line x1="478.60" y1="369.37" x2="483.40" y2="369.37" stroke="#8a7cc6" stroke-width="1.2"/>
<line x1="477.40" y1="374.95" x2="484.60" y2="374.95" stroke="#8a7cc6" stroke-width="1.3"/>
<polygon points="478.00,379.33 481.60,379.33 479.80,376.23" fill="#8a7cc6"/>
<polygon points="480.40,379.33 484.00,379.33 482.20,376.23" fill="#8a7cc6"/>
<polygon points="479.20,370.92 482.80,370.92 481.00,367.82" fill="#8a7cc6"/>
<circle cx="382.50" cy="261.00" r="2.1" fill="#1b3b7b"/>
<rect x="380.40" y="272.90" width="4.2" height="4.2" fill="#519edd"/>
<polygon points="380.35,291.20 384.65,291.20 382.50,287.20" fill="#8a7cc6"/>
<text transform="translate(387.49,263.90) scale(0.9987,1)" x="0" y="0" font-size="8.3" fill="#1a1a1a">Cy&#160;+&#160;IL-2&#160;+&#160;PBS</text>
<text transform="translate(387.47,277.60) scale(1.0282,1)" x="0" y="0" font-size="8.3" fill="#1a1a1a">Cy&#160;+&#160;IL-2&#160;+&#160;CD4</text>
<text transform="translate(387.47,291.20) scale(1.0282,1)" x="0" y="0" font-size="8.3" fill="#1a1a1a">Cy&#160;+&#160;IL-2&#160;+&#160;CD4</text>
<text transform="translate(449.02,273.90) scale(0.9841,1)" x="0" y="0" font-size="5.9" fill="#1a1a1a">LNGFR.FOXP3</text>
<text transform="translate(449.02,287.80) scale(0.9774,1)" x="0" y="0" font-size="5.9" fill="#1a1a1a">LNGFR</text>
<text transform="translate(7.71,450.00) scale(1.1303,1)" x="0" y="0" font-size="13.0" font-weight="bold" fill="#000">D</text>
<line x1="49.60" y1="454.40" x2="49.60" y2="586.80" stroke="#111" stroke-width="1.35"/>
<line x1="46.20" y1="586.20" x2="247.60" y2="586.20" stroke="#111" stroke-width="1.35"/>
<line x1="46.40" y1="586.00" x2="49.60" y2="586.00" stroke="#111" stroke-width="1.1"/>
<text x="38.05" y="589.05" font-size="8.8" fill="#1a1a1a">0</text>
<line x1="46.40" y1="526.10" x2="49.60" y2="526.10" stroke="#111" stroke-width="1.1"/>
<text x="33.16" y="529.15" font-size="8.8" fill="#1a1a1a">50</text>
<line x1="46.40" y1="466.30" x2="49.60" y2="466.30" stroke="#111" stroke-width="1.1"/>
<text x="28.26" y="469.35" font-size="8.8" fill="#1a1a1a">100</text>
<line x1="49.60" y1="586.20" x2="49.60" y2="589.70" stroke="#111" stroke-width="1.2"/>
<text x="47.09" y="601.00" font-size="9.0" fill="#1a1a1a">0</text>
<line x1="132.00" y1="586.20" x2="132.00" y2="589.70" stroke="#111" stroke-width="1.2"/>
<text x="126.99" y="601.00" font-size="9.0" fill="#1a1a1a">50</text>
<line x1="214.50" y1="586.20" x2="214.50" y2="589.70" stroke="#111" stroke-width="1.2"/>
<text x="206.83" y="601.00" font-size="9.0" fill="#1a1a1a">100</text>
<text transform="translate(139.34,615.40) scale(0.7151,1)" x="0" y="0" font-size="11.2" fill="#1a1a1a">Days</text>
<g transform="translate(21.70,549.80) rotate(-90)">
<text transform="translate(-0.70,0.00) scale(0.7522,1)" x="0" y="0" font-size="11.3" fill="#1a1a1a">Percent&#160;survival</text>
</g>
<polyline points="84.30,466.30 84.30,466.30 84.30,483.40 117.00,483.40 117.00,517.90 137.10,517.90 137.10,534.70 153.30,534.70 153.30,551.60 155.20,551.60 155.20,568.90 165.20,568.90 165.20,586.00" fill="none" stroke="#8a7cc6" stroke-width="1.4" stroke-linejoin="miter" stroke-linecap="square"/>
<polyline points="99.20,466.30 99.20,466.30 99.20,479.60 114.00,479.60 114.00,492.90 148.50,492.90 148.50,506.20 155.10,506.20 155.10,519.50 186.50,519.50 186.50,532.80 196.70,532.80 196.70,546.10 223.10,546.10 223.10,559.40 231.00,559.40" fill="none" stroke="#519edd" stroke-width="1.4" stroke-linejoin="miter" stroke-linecap="square"/>
<polyline points="87.60,466.30 158.60,466.30 158.60,478.30 160.10,478.30 160.10,490.20 192.90,490.20 192.90,514.20 196.10,514.20 196.10,526.20 199.70,526.20 199.70,538.10 231.00,538.10" fill="none" stroke="#a9122e" stroke-width="1.4" stroke-linejoin="miter" stroke-linecap="square"/>
<polyline points="84.50,466.30 84.50,466.30 84.50,473.90 102.00,473.90 102.00,481.30 114.10,481.30 114.10,488.80 115.40,488.80 115.40,496.10 118.70,496.10 118.70,503.50 125.40,503.50 125.40,518.30 136.90,518.30 136.90,526.10 142.20,526.10 142.20,541.00 143.00,541.00 143.00,548.50 148.70,548.50 148.70,556.10 153.30,556.10 153.30,563.60 155.20,563.60 155.20,571.00 160.20,571.00 160.20,578.50 182.90,578.50 182.90,586.00" fill="none" stroke="#1b3b7b" stroke-width="1.4" stroke-linejoin="miter" stroke-linecap="square"/>
<polyline points="89.00,466.30 89.00,466.30 89.00,481.30 118.80,481.30 118.80,496.10 120.60,496.10 120.60,511.00 127.10,511.00 127.10,526.10 128.80,526.10 128.80,541.10 130.00,541.10 130.00,556.10 142.10,556.10 142.10,571.00 176.60,571.00 176.60,586.00" fill="none" stroke="#e9a12c" stroke-width="1.4" stroke-linejoin="miter" stroke-linecap="square"/>
<polyline points="49.50,466.30 87.60,466.30 87.60,477.20 92.30,477.20 92.30,499.00 95.80,499.00 95.80,531.50 99.20,531.50 99.20,553.30 107.60,553.30 107.60,586.00" fill="none" stroke="#6bb241" stroke-width="1.4" stroke-linejoin="miter" stroke-linecap="square"/>
<line x1="231.20" y1="535.50" x2="231.20" y2="538.80" stroke="#333" stroke-width="1.0"/>
<line x1="231.20" y1="556.80" x2="231.20" y2="560.10" stroke="#333" stroke-width="1.0"/>
<line x1="275.50" y1="504.75" x2="275.50" y2="579.40" stroke="#222" stroke-width="1.0"/>
<line x1="286.60" y1="504.75" x2="286.60" y2="564.90" stroke="#222" stroke-width="1.0"/>
<line x1="296.50" y1="504.75" x2="296.50" y2="551.60" stroke="#222" stroke-width="1.0"/>
<line x1="296.50" y1="565.20" x2="296.50" y2="580.80" stroke="#222" stroke-width="1.0"/>
<line x1="306.40" y1="504.75" x2="306.40" y2="538.00" stroke="#222" stroke-width="1.0"/>
<line x1="306.40" y1="547.50" x2="306.40" y2="563.10" stroke="#222" stroke-width="1.0"/>
<line x1="315.50" y1="504.75" x2="315.50" y2="526.50" stroke="#222" stroke-width="1.0"/>
<line x1="315.50" y1="534.60" x2="315.50" y2="579.40" stroke="#222" stroke-width="1.0"/>
<g transform="translate(275.75,545.50) rotate(-90)">
<text transform="translate(-0.16,0.00) scale(1.0256,1)" x="0" y="0" font-size="8.9" fill="#1a1a1a">**</text>
</g>
<g transform="translate(287.00,541.40) rotate(-90)">
<text transform="translate(-0.16,0.00) scale(1.0037,1)" x="0" y="0" font-size="8.9" fill="#1a1a1a">****</text>
</g>
<g transform="translate(296.50,535.00) rotate(-90)">
<text transform="translate(-0.16,0.00) scale(1.0332,1)" x="0" y="0" font-size="8.9" fill="#1a1a1a">****</text>
</g>
<g transform="translate(296.50,574.40) rotate(-90)">
<text transform="translate(-0.15,0.00) scale(0.9812,1)" x="0" y="0" font-size="8.9" fill="#1a1a1a">*</text>
</g>
<g transform="translate(306.30,528.50) rotate(-90)">
<text transform="translate(-0.16,0.00) scale(1.0480,1)" x="0" y="0" font-size="8.9" fill="#1a1a1a">****</text>
</g>
<g transform="translate(315.50,521.00) rotate(-90)">
<text transform="translate(-0.17,0.00) scale(1.0715,1)" x="0" y="0" font-size="8.9" fill="#1a1a1a">***</text>
</g>
<g transform="translate(304.80,558.40) rotate(-90)">
<text transform="translate(-0.43,0.00) scale(0.9418,1)" x="0" y="0" font-size="6.8" fill="#1a1a1a">ns</text>
</g>
<g transform="translate(314.20,561.10) rotate(-90)">
<text transform="translate(-0.53,0.00) scale(1.0936,1)" x="0" y="0" font-size="7.2" fill="#1a1a1a">ns</text>
</g>
<line x1="321.20" y1="508.30" x2="333.00" y2="508.30" stroke="#6bb241" stroke-width="1.4"/>
<line x1="327.20" y1="506.70" x2="327.20" y2="508.30" stroke="#222" stroke-width="0.8"/>
<line x1="321.20" y1="521.90" x2="333.00" y2="521.90" stroke="#e9a12c" stroke-width="1.4"/>
<line x1="327.20" y1="520.30" x2="327.20" y2="521.90" stroke="#222" stroke-width="0.8"/>
<line x1="321.20" y1="535.80" x2="333.00" y2="535.80" stroke="#1b3b7b" stroke-width="1.4"/>
<line x1="327.20" y1="534.20" x2="327.20" y2="535.80" stroke="#222" stroke-width="0.8"/>
<line x1="321.20" y1="549.80" x2="333.00" y2="549.80" stroke="#a9122e" stroke-width="1.4"/>
<line x1="327.20" y1="548.20" x2="327.20" y2="549.80" stroke="#222" stroke-width="0.8"/>
<line x1="321.20" y1="563.70" x2="333.00" y2="563.70" stroke="#519edd" stroke-width="1.4"/>
<line x1="327.20" y1="562.10" x2="327.20" y2="563.70" stroke="#222" stroke-width="0.8"/>
<line x1="321.20" y1="577.20" x2="333.00" y2="577.20" stroke="#8a7cc6" stroke-width="1.4"/>
<line x1="327.20" y1="575.60" x2="327.20" y2="577.20" stroke="#222" stroke-width="0.8"/>
<text transform="translate(336.33,511.20) scale(0.9852,1)" x="0" y="0" font-size="8.3" fill="#1a1a1a">PBS&#160;(n=11)</text>
<text transform="translate(336.58,524.80) scale(1.0120,1)" x="0" y="0" font-size="8.3" fill="#1a1a1a">Cy&#160;(n=8)</text>
<text transform="translate(336.58,538.70) scale(1.0069,1)" x="0" y="0" font-size="8.3" fill="#1a1a1a">Cy&#160;+&#160;IL-2&#160;(n=16)</text>
<text transform="translate(336.58,552.50) scale(1.0190,1)" x="0" y="0" font-size="8.3" fill="#1a1a1a">Cy&#160;+&#160;IL-2&#160;+&#160;Treg&#160;(n=10)</text>
<text transform="translate(336.58,566.30) scale(1.0232,1)" x="0" y="0" font-size="8.3" fill="#1a1a1a">Cy&#160;+&#160;IL-2&#160;+&#160;CD4</text>
<text transform="translate(398.03,563.10) scale(0.9742,1)" x="0" y="0" font-size="5.9" fill="#1a1a1a">LNGFR.FOXP3</text>
<text transform="translate(439.75,566.30) scale(1.0608,1)" x="0" y="0" font-size="8.3" fill="#1a1a1a">(n=9)</text>
<text transform="translate(336.58,579.80) scale(1.0232,1)" x="0" y="0" font-size="8.3" fill="#1a1a1a">Cy&#160;+&#160;IL-2&#160;+&#160;CD4</text>
<text transform="translate(398.02,576.90) scale(0.9774,1)" x="0" y="0" font-size="5.9" fill="#1a1a1a">LNGFR</text>
<text transform="translate(419.05,579.80) scale(1.0554,1)" x="0" y="0" font-size="8.3" fill="#1a1a1a">(n=7)</text>
</svg></body></html>
